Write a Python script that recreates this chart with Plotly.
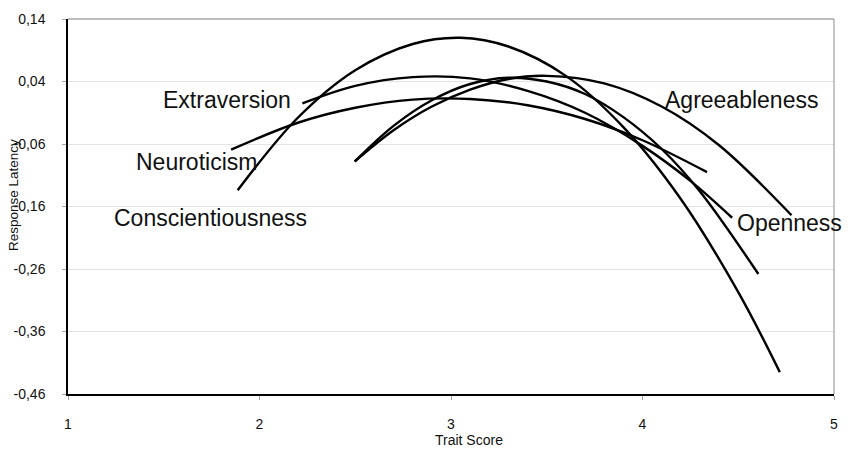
import plotly.graph_objects as go

# ---- data ----
consc_x = [1.886, 2.2, 2.5, 2.8, 3.05, 3.3, 3.6, 3.9, 4.2, 4.5, 4.717]
consc_y = [-0.134, -0.018, 0.058, 0.100, 0.110, 0.096, 0.049, -0.033, -0.148, -0.297, -0.425]

neuro_x = [1.852, 2.2, 2.5, 2.8, 3.1, 3.4, 3.7, 4.0, 4.337]
neuro_y = [-0.069, -0.026, -0.002, 0.011, 0.012, 0.002, -0.020, -0.054, -0.105]

extra_x = [2.224, 2.5, 2.8, 3.1, 3.4, 3.7, 4.0, 4.25, 4.468]
extra_y = [0.005, 0.033, 0.047, 0.045, 0.025, -0.010, -0.063, -0.119, -0.178]

open_x = [2.497, 2.7, 2.9, 3.1, 3.3, 3.5, 3.7, 3.9, 4.1, 4.3, 4.605]
open_y = [-0.088, -0.031, 0.010, 0.036, 0.046, 0.040, 0.020, -0.017, -0.068, -0.136, -0.268]

agree_x = [2.497, 2.7, 2.9, 3.1, 3.3, 3.5, 3.8, 4.1, 4.4, 4.778]
agree_y = [-0.088, -0.038, 0.000, 0.027, 0.044, 0.049, 0.037, 0.000, -0.062, -0.174]

y_tick_vals = [0.14, 0.04, -0.06, -0.16, -0.26, -0.36, -0.46]
y_tick_text = ["0,14", "0,04", "-0,06", "-0,16", "-0,26", "-0,36", "-0,46"]
x_tick_vals = [1, 2, 3, 4, 5]

# label texts with anchor positions (data coordinates)
label_text = ["Extraversion", "Neuroticism", "Conscientiousness", "Agreeableness", "Openness"]
label_x = [1.485, 1.345, 1.232, 4.105, 4.482]
label_y = [0.011, -0.088, -0.179, 0.011, -0.187]

FONT = "Liberation Sans, Arial, sans-serif"

fig = go.Figure()
for xs, ys, nm in [(consc_x, consc_y, "Conscientiousness"),
                   (neuro_x, neuro_y, "Neuroticism"),
                   (extra_x, extra_y, "Extraversion"),
                   (open_x, open_y, "Openness"),
                   (agree_x, agree_y, "Agreeableness")]:
    fig.add_trace(go.Scatter(x=xs, y=ys, mode="lines", name=nm,
                             line=dict(color="black", width=2.4, shape="spline", smoothing=1.0),
                             hoverinfo="skip", showlegend=False))

for t, lx, ly in zip(label_text, label_x, label_y):
    fig.add_annotation(x=lx, y=ly, text=t, showarrow=False, xanchor="left", yanchor="middle",
                       font=dict(family=FONT, size=23, color="#111111"))

fig.add_annotation(xref="paper", yref="paper", x=-0.072, y=0.53, text="Response Latency",
                   textangle=-90, showarrow=False, xanchor="center", yanchor="middle",
                   font=dict(family=FONT, size=13.5, color="#111111"))
fig.add_annotation(xref="paper", yref="paper", x=0.523, y=-0.123, text="Trait Score",
                   showarrow=False, xanchor="center", yanchor="middle",
                   font=dict(family=FONT, size=14, color="#111111"))

# grey top and right frame
fig.add_shape(type="line", xref="paper", yref="paper", x0=0, x1=1, y0=1, y1=1,
              line=dict(color="#a6a6a6", width=1.3))
fig.add_shape(type="line", xref="paper", yref="paper", x0=1, x1=1, y0=0, y1=1,
              line=dict(color="#a6a6a6", width=1.3))

fig.update_layout(
    width=849, height=453,
    margin=dict(l=68, r=11, t=15, b=59),
    paper_bgcolor="white", plot_bgcolor="white",
    font=dict(family=FONT, size=14, color="#111111"),
    xaxis=dict(range=[1, 5], tickvals=x_tick_vals, showgrid=False, zeroline=False,
               showline=True, linecolor="black", linewidth=1.5,
               ticks="outside", ticklen=4, tickcolor="#a6a6a6", tickwidth=1,
               ticklabelstandoff=12, tickfont=dict(size=14)),
    yaxis=dict(range=[-0.46, 0.14], tickvals=y_tick_vals, ticktext=y_tick_text,
               showgrid=True, gridcolor="#e3e3e3", gridwidth=1, zeroline=False,
               showline=True, linecolor="black", linewidth=1.5,
               ticks="outside", ticklen=4, tickcolor="#a6a6a6", tickwidth=1,
               ticklabelstandoff=14, tickfont=dict(size=14)),
)

fig.write_html("out.html", config={"displayModeBar": False},
               post_script="document.body.style.margin='0';document.body.style.overflow='hidden';")
